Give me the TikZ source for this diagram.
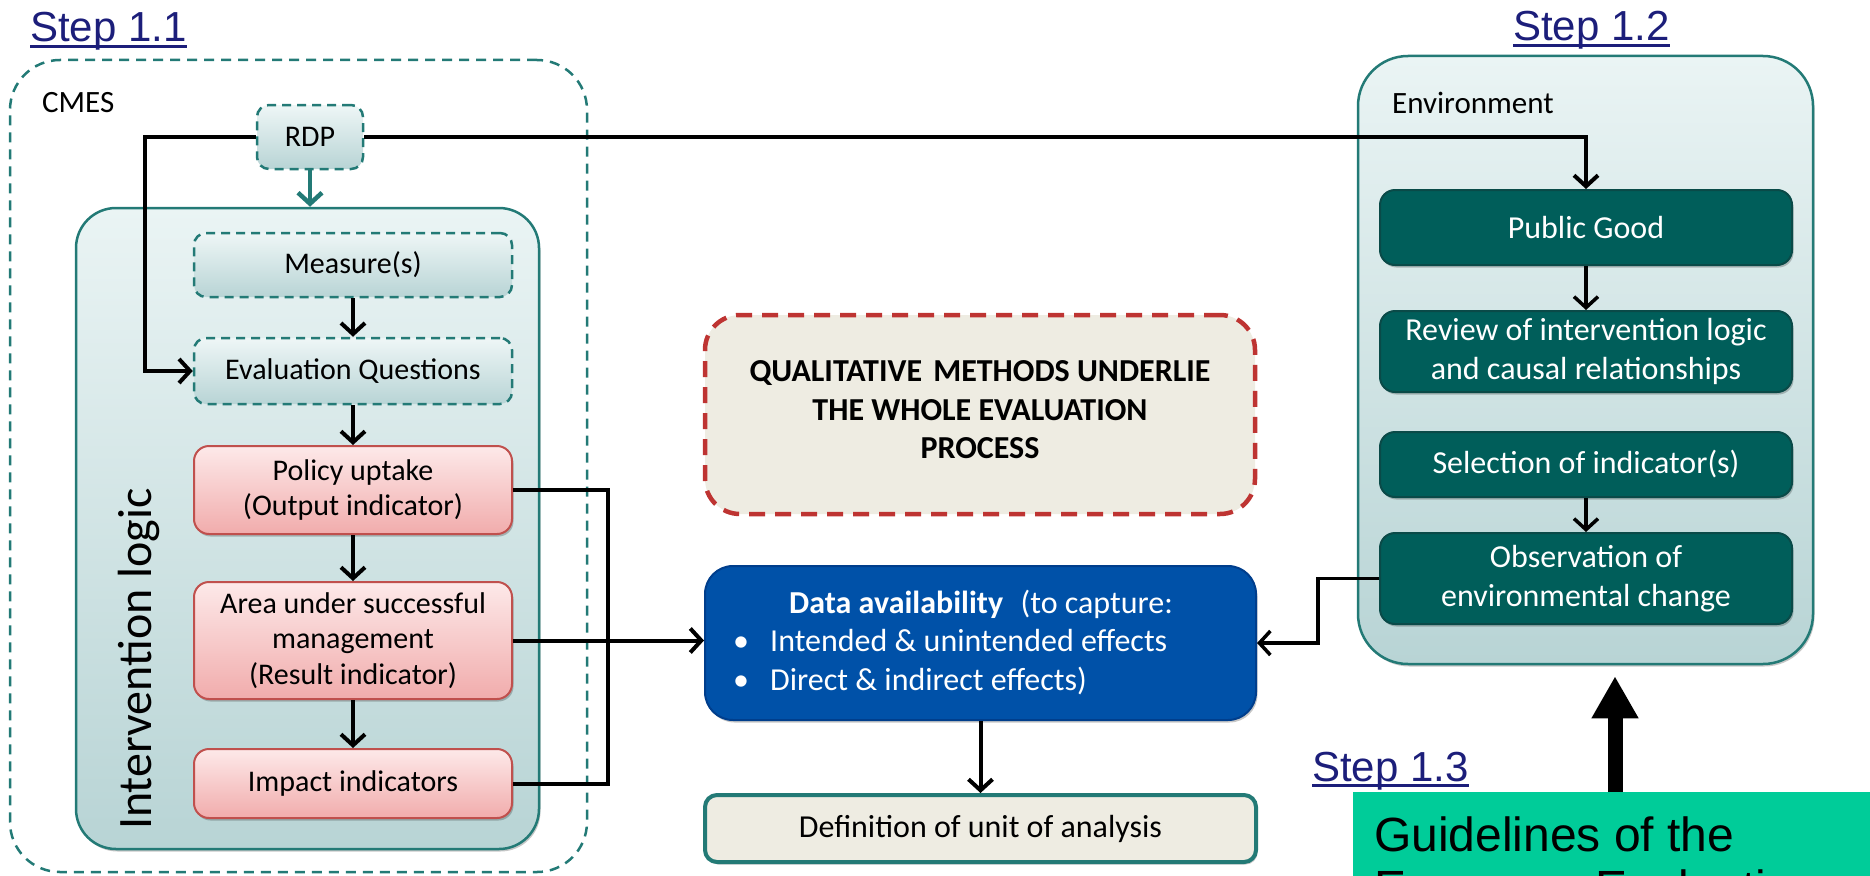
\documentclass[tikz,border=0pt]{standalone}
\usepackage{fontspec}
\usetikzlibrary{arrows.meta,shadows}
\newfontfamily\carl{Carlito}
\newfontfamily\arl{Liberation Sans}

\definecolor{tealline}{RGB}{35,122,118}
\definecolor{tealdark}{RGB}{0,94,90}
\definecolor{tealedge}{RGB}{10,74,72}
\definecolor{palehi}{RGB}{234,244,244}
\definecolor{palelo}{RGB}{184,212,213}
\definecolor{redline}{RGB}{192,80,77}
\definecolor{redhi}{RGB}{253,233,233}
\definecolor{redlo}{RGB}{241,172,172}
\definecolor{dashred}{RGB}{190,52,50}
\definecolor{beige}{RGB}{238,236,226}
\definecolor{bluefill}{RGB}{0,81,168}
\definecolor{blueedge}{RGB}{0,62,140}
\definecolor{guidegreen}{RGB}{0,204,153}
\definecolor{stepblue}{RGB}{28,30,122}

\tikzset{
  txt/.style={font=\carl\fontsize{30}{35.5}\selectfont},
  bigtxt/.style={font=\carl\fontsize{32}{38.5}\selectfont},
  softshadow/.style={drop shadow={shadow xshift=1.5pt, shadow yshift=-2.5pt, opacity=0.22, fill=black}},
  steplbl/.style={font=\arl\fontsize{42}{46}\selectfont, text=stepblue, inner sep=0pt, anchor=base west},
  cmesframe/.style={rectangle, rounded corners=50pt, draw=tealline, line width=2.5pt,
    dash pattern=on 10pt off 7pt, inner sep=0pt},
  ilframe/.style={rectangle, rounded corners=40pt, draw=tealline, line width=2.5pt,
    top color=palehi, bottom color=palelo, inner sep=0pt, softshadow},
  envframe/.style={ilframe, rounded corners=50pt},
  dashbox/.style={rectangle, rounded corners=12pt, draw=tealline, line width=2.5pt,
    dash pattern=on 9pt off 6pt, top color=palehi!80!white, bottom color=palelo,
    txt, align=center, inner sep=0pt},
  redbox/.style={rectangle, rounded corners=15pt, draw=redline, line width=2pt,
    top color=redhi, bottom color=redlo, txt, align=center, inner sep=0pt, softshadow},
  envbox/.style={rectangle, rounded corners=15pt, draw=tealedge, line width=2pt,
    fill=tealdark, text=white, bigtxt, align=center, inner sep=0pt, softshadow},
  link/.style={draw=black, line width=4pt, -{Straight Barb[length=11pt,width=24pt]}},
  plain/.style={draw=black, line width=4pt},
}

\begin{document}
\begin{tikzpicture}[x=1pt,y=-1pt]
\useasboundingbox (0,0) rectangle (1870,875);
\clip (0,0) rectangle (1870,875);

% ---------- Step 1.1 : CMES ----------
\node[cmesframe, minimum width=577pt, minimum height=812pt] (cmes) at (298.5,466) {};
\node[font=\carl\fontsize{31}{36}\selectfont, anchor=west, inner sep=0pt] (cmeslbl) at (42,103) {CMES};
\node[dashbox, minimum width=106pt, minimum height=64pt] (rdp) at (310,137) {RDP};

\node[ilframe, minimum width=463pt, minimum height=641pt] (il) at (307.5,528.5) {};
\node[rotate=90, anchor=base, inner sep=0pt, font=\carl\fontsize{48}{50}\selectfont] (iltext) at (151,659) {Intervention logic};

\node[dashbox, minimum width=318pt, minimum height=64pt] (meas) at (353,265) {Measure(s)};
\node[dashbox, minimum width=318pt, minimum height=66pt] (evalq) at (353,371) {Evaluation Questions};
\node[redbox, minimum width=318pt, minimum height=88pt] (policy) at (353,490) {Policy uptake\\(Output indicator)};
\node[redbox, minimum width=318pt, minimum height=117pt] (area) at (353,640.5) {Area under successful\\management\\(Result indicator)};
\node[redbox, minimum width=318pt, minimum height=69pt] (impact) at (353,783.5) {Impact indicators};

\draw[link, draw=tealline, line width=4.5pt] (rdp.south) -- (rdp.south |- il.north);
\draw[link] (meas) -- (evalq);
\draw[link] (evalq) -- (policy);
\draw[link] (policy) -- (area);
\draw[link] (area) -- (impact);

\coordinate (rdpleft) at (145,137);
\draw[link] (rdp.west) -- (rdpleft) |- (evalq.west);

% ---------- centre column ----------
\node[rectangle, rounded corners=35pt, draw=dashred, line width=4.5pt, dash pattern=on 16pt off 10pt,
  fill=beige, minimum width=550pt, minimum height=199pt] (qual) at (980,414.5) {};
\node[font=\carl\bfseries\fontsize{32}{38.5}\selectfont, align=center] (qualtxt) at (980,410)
  {QUALITATIVE\hspace{0.35em}METHODS UNDERLIE\\THE WHOLE EVALUATION\\PROCESS};

\node[rectangle, rounded corners=28pt, draw=blueedge, line width=2pt, fill=bluefill,
  minimum width=551pt, minimum height=154pt, softshadow] (data) at (980.5,643) {};
\node[font=\carl\fontsize{32}{38.5}\selectfont, text=white, align=left, anchor=west, inner sep=0pt] (datatxt) at (733,642.5)
  {\hspace*{56pt}\textbf{Data availability}\hspace{0.55em}(to capture:\\
   \makebox[37pt][l]{\textbullet}Intended \& unintended effects\\
   \makebox[37pt][l]{\textbullet}Direct \& indirect effects)};

\node[rectangle, rounded corners=12pt, draw=tealline, line width=4pt, fill=beige,
  minimum width=551pt, minimum height=67pt, bigtxt, softshadow] (defn) at (980.5,828.5) {Definition of unit of analysis};

\draw[link] (data.south) -- (defn.north);

\coordinate (bus) at (608,640.5);
\draw[plain] (policy.east) -| (bus);
\draw[plain] (impact.east) -| (bus);
\draw[link] (area.east) -- (area.east -| data.west);

% ---------- Step 1.2 : Environment ----------
\node[envframe, minimum width=455pt, minimum height=608pt] (env) at (1585.5,360) {};
\node[font=\carl\fontsize{31}{36}\selectfont, anchor=west, inner sep=0pt] (envlbl) at (1392,103) {Environment};

\node[envbox, minimum width=412pt, minimum height=75pt] (pg) at (1586,227.5) {Public Good};
\node[envbox, minimum width=412pt, minimum height=81pt] (rev) at (1586,351.5) {Review of intervention logic\\and causal relationships};
\node[envbox, minimum width=412pt, minimum height=65pt] (sel) at (1586,464.5) {Selection of indicator(s)};
\node[envbox, minimum width=412pt, minimum height=91pt] (obs) at (1586,578.5) {Observation of\\environmental change};

\draw[link] (rdp.east) -| (pg.north);
\draw[link, line width=3.5pt] (pg) -- (rev);
\draw[link, line width=3.5pt] (sel) -- (obs);

\coordinate (obsbend) at (1318,578.5);
\draw[link, line width=3.5pt] (obs.west) -- (obsbend) |- (data.east);

% ---------- Step 1.3 : guidelines ----------
\node[rectangle, fill=guidegreen, anchor=north west, minimum width=560pt, minimum height=120pt, inner sep=0pt] (guide) at (1353,792) {};
\node[font=\arl\fontsize{48}{50}\selectfont, anchor=base west, inner sep=0pt] (guide1) at (1374,851) {Guidelines of the};
\node[font=\arl\fontsize{48}{50}\selectfont, anchor=base west, inner sep=0pt] (guide2) at (1374,904) {European Evaluation};

\coordinate (bigx) at (1615,0);
\draw[line width=15pt, -{Triangle[length=42pt,width=44pt]}, shorten >=11pt]
  (guide.north -| bigx) -- (env.south -| bigx);

% ---------- step labels ----------
\node[steplbl] (s11) at (30,42) {Step 1.1};
\node[steplbl] (s12) at (1513,41) {Step 1.2};
\node[steplbl] (s13) at (1312,781) {Step 1.3};
\foreach \s in {s11,s12,s13}
  \draw[stepblue, line width=2.5pt] ([yshift=-4.5pt]\s.base west) -- ([yshift=-4.5pt]\s.base east);
\end{tikzpicture}
\end{document}
